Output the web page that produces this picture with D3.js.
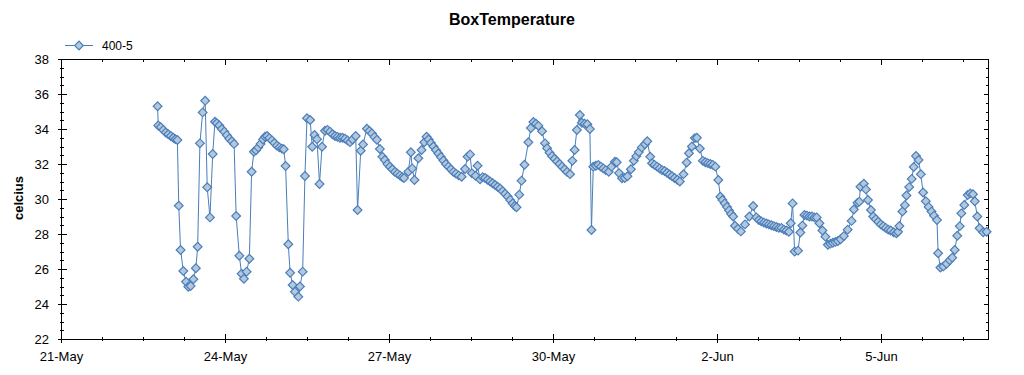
<!DOCTYPE html>
<html>
<head>
<meta charset="utf-8">
<script src="https://d3js.org/d3.v7.min.js"></script>
<style>
  body { margin: 0; background: #fff; }
  text { font-family: "Liberation Sans", Arial, sans-serif; fill: #000; }
</style>
</head>
<body>
<svg id="chart" width="1024" height="375"></svg>
<script>
// readings: [hour of day, celcius], one array per day
const may22 = [[18.4,35.3],[18.7,34.2],[19.8,34.1],[20.9,33.95],[22.0,33.8],[23.1,33.7]];
const may23 = [[0.2,33.6],[1.3,33.5],[2.2,33.42],[3.1,33.37],[3.7,29.62],[4.5,27.09],[5.7,25.89],[6.9,25.27],[7.9,24.99],[8.9,25.03],[10.1,25.41],[11.2,26.04],[12.0,27.27],[13.0,33.18],[14.2,34.95],[15.3,35.62],[16.2,30.67],[17.4,28.95],[18.6,32.57],[19.6,34.42],[20.4,34.33],[21.5,34.2],[22.6,34.0],[23.7,33.85]];
const may24 = [[0.8,33.65],[1.9,33.45],[3.0,33.3],[4.0,33.15],[4.9,29.03],[6.3,26.76],[7.3,25.73],[8.3,25.44],[9.5,25.85],[10.7,26.59],[11.7,31.56],[12.7,32.7],[13.6,32.78],[14.6,32.95],[15.6,33.15],[16.7,33.4],[17.6,33.56],[18.5,33.6],[19.5,33.48],[20.6,33.35],[21.7,33.2],[22.8,33.05],[23.9,32.95]];
const may25 = [[1.0,32.88],[1.8,32.84],[2.6,31.89],[3.8,27.41],[4.6,25.79],[5.7,25.09],[6.7,24.7],[8.2,24.42],[8.9,25.0],[10.1,25.85],[11.1,31.31],[12.0,34.61],[13.4,34.51],[14.3,32.99],[15.3,33.66],[16.4,33.41],[17.5,30.86],[18.6,32.99],[19.9,33.9],[21.0,33.95],[22.1,33.85],[23.2,33.7]];
const may26 = [[0.3,33.6],[1.4,33.55],[2.5,33.5],[3.6,33.5],[4.7,33.45],[5.8,33.35],[6.9,33.25],[8.0,33.4],[9.4,33.6],[10.2,29.37],[11.6,32.76],[12.6,33.12],[14.3,34.02],[15.4,33.89],[16.5,33.75],[17.6,33.55],[18.7,33.38],[20.0,32.86],[21.1,32.42],[22.2,32.23],[23.3,32.0]];
const may27 = [[0.4,31.85],[1.5,31.7],[2.6,31.55],[3.7,31.45],[4.8,31.35],[5.8,31.25],[6.6,31.2],[8.5,31.56],[9.6,32.67],[10.2,31.75],[11.2,31.09],[12.9,32.33],[14.3,32.8],[15.5,33.24],[16.5,33.56],[17.4,33.4],[18.4,33.2],[19.5,33.0],[20.6,32.8],[21.7,32.6],[22.8,32.4],[23.9,32.2]];
const may28 = [[1.0,32.0],[2.1,31.85],[3.2,31.7],[4.3,31.55],[5.4,31.45],[6.6,31.35],[7.9,31.27],[9.4,31.71],[10.5,32.42],[11.6,32.55],[12.4,31.47],[14.0,31.33],[14.9,31.9],[16.0,31.12],[17.1,31.25],[18.2,31.2],[19.3,31.1],[20.4,31.0],[21.5,30.9],[22.6,30.8],[23.7,30.7]];
const may29 = [[0.8,30.6],[1.9,30.45],[3.0,30.3],[4.1,30.15],[5.2,29.95],[6.3,29.75],[7.2,29.6],[8.0,29.53],[9.2,30.25],[10.2,31.05],[11.5,31.96],[13.2,33.24],[14.3,34.06],[15.4,34.4],[16.5,34.3],[17.6,34.18],[19.2,33.87],[20.5,33.18],[21.4,32.9],[22.5,32.65],[23.6,32.45]];
const may30 = [[0.7,32.3],[1.8,32.15],[2.9,32.0],[4.0,31.85],[5.1,31.7],[6.2,31.55],[7.5,31.42],[8.5,32.18],[9.5,32.8],[10.5,33.94],[11.8,34.8],[12.7,34.36],[13.9,34.3],[15.1,34.27],[16.2,34.0],[16.9,28.23],[17.7,31.85],[18.8,31.9],[19.9,31.95],[21.0,31.85],[22.1,31.75],[23.2,31.65]];
const may31 = [[0.5,31.56],[1.7,31.85],[3.2,32.13],[4.0,32.1],[5.0,31.48],[6.3,31.18],[7.5,31.2],[8.7,31.3],[10.2,31.7],[11.5,32.18],[12.6,32.45],[13.7,32.68],[15.0,32.95],[16.4,33.13],[17.4,33.3],[18.7,32.42],[19.5,32.04],[20.6,31.95],[21.7,31.85],[22.8,31.75],[23.9,31.65]];
const jun1 = [[1.0,31.6],[2.1,31.5],[3.2,31.4],[4.3,31.3],[5.4,31.2],[6.6,31.1],[7.7,31.0],[9.3,31.42],[10.7,32.08],[11.7,32.61],[13.0,33.0],[14.3,33.48],[15.2,33.5],[16.5,32.88],[17.8,32.18],[18.9,32.1],[20.0,32.05],[21.1,32.0],[22.2,31.95],[23.3,31.85]];
const jun2 = [[0.6,31.09],[1.5,30.13],[2.4,29.94],[3.4,29.75],[4.4,29.55],[5.3,29.35],[6.2,29.15],[7.1,29.0],[7.9,28.47],[9.2,28.3],[10.5,28.15],[12.3,28.55],[14.2,29.0],[15.9,29.6],[17.3,28.95],[18.4,28.8],[19.5,28.72],[20.6,28.65],[21.7,28.6],[22.8,28.55],[23.9,28.5]];
const jun3 = [[1.0,28.45],[2.1,28.4],[3.2,28.35],[4.3,28.35],[5.4,28.25],[6.5,28.2],[7.6,28.13],[8.4,28.61],[9.2,29.75],[10.1,27.0],[11.6,27.05],[12.6,28.09],[13.5,28.48],[14.4,29.09],[15.5,29.05],[16.6,29.0],[17.7,29.0],[18.8,28.95],[19.8,28.95],[21.0,28.61],[22.3,28.2],[23.6,27.85]];
const jun4 = [[0.7,27.39],[1.8,27.45],[2.9,27.5],[4.0,27.55],[5.1,27.6],[6.3,27.7],[7.7,27.88],[9.4,28.25],[11.1,28.75],[12.1,29.4],[13.7,29.78],[14.5,29.85],[15.0,30.7],[16.5,30.87],[17.4,30.55],[18.3,29.94],[19.6,29.37],[20.6,29.0],[21.7,28.85],[22.8,28.7],[23.9,28.55]];
const jun5 = [[1.0,28.45],[2.1,28.35],[3.2,28.25],[4.3,28.2],[5.6,28.1],[6.8,28.04],[7.5,28.13],[8.1,28.46],[9.4,29.28],[10.5,29.65],[11.2,30.2],[12.4,30.68],[13.5,31.15],[14.4,31.83],[15.4,32.46],[16.5,32.23],[17.5,31.42],[18.5,30.37],[19.7,29.87],[20.9,29.55],[22.2,29.28],[23.3,29.05]];
const jun6 = [[0.6,28.8],[1.1,26.9],[2.1,26.08],[3.4,26.15],[4.8,26.3],[6.2,26.5],[7.3,26.65],[8.4,27.09],[9.5,27.9],[10.6,28.45],[11.3,29.18],[12.6,29.66],[14.1,30.23],[15.2,30.32],[16.4,30.27],[17.2,29.87],[18.3,29.0],[19.3,28.33],[20.9,28.1],[22.4,28.13]];

const days = [may22, may23, may24, may25, may26, may27, may28, may29, may30, may31,
              jun1, jun2, jun3, jun4, jun5, jun6];
const startDate = new Date(2010, 4, 21);
const endHours = 407;
const yTicks = d3.range(22, 38.01, 2);
const seriesName = "400-5";

const hoursToDate = h => new Date(startDate.getTime() + h * 3600e3);
const data = [];
days.forEach((day, i) => day.forEach(([h, v]) => data.push({ t: hoursToDate((i + 1) * 24 + h), v })));

const svg = d3.select("#chart");
const plotL = 61, plotR = 988, plotT = 59, plotB = 339;

const x = d3.scaleTime().domain([startDate, hoursToDate(endHours)]).range([plotL, plotR]);
const y = d3.scaleLinear().domain([22, 38]).range([plotB, plotT]);

// title and axis label
svg.append("text").attr("x", 512).attr("y", 25).attr("text-anchor", "middle")
  .style("font-size", "16px").style("font-weight", "bold").text("BoxTemperature");
svg.append("text").attr("transform", "translate(23,198) rotate(-90)").attr("text-anchor", "middle")
  .style("font-size", "13px").style("font-weight", "bold").text("celcius");

// frame
svg.append("rect").attr("x", plotL + 0.5).attr("y", plotT + 0.5).attr("width", plotR - plotL).attr("height", plotB - plotT)
  .attr("fill", "none").attr("stroke", "#000").attr("stroke-width", 1);

// x ticks, every 18 hours, labels every 3 days
const xTickHours = d3.range(0, endHours, 18);
const g = svg.append("g").attr("stroke", "#000").attr("shape-rendering", "crispEdges");
xTickHours.forEach(h => {
  const px = Math.round(x(hoursToDate(h))) + 0.5;
  const major = h % 72 === 0;
  g.append("line").attr("x1", px).attr("x2", px).attr("y1", plotB - (major ? 5 : 2)).attr("y2", plotB + (major ? 4 : 2));
  g.append("line").attr("x1", px).attr("x2", px).attr("y1", plotT).attr("y2", plotT + (major ? 6 : 3));
  if (major) {
    svg.append("text").attr("x", px).attr("y", 361).attr("text-anchor", "middle")
      .style("font-size", "13px").text(d3.timeFormat("%-d-%b")(hoursToDate(h)));
  }
});

// y ticks, every 0.5, labels every 2
d3.range(22, 38.01, 0.5).forEach(v => {
  const py = Math.round(y(v)) + 0.5;
  const major = yTicks.includes(v);
  g.append("line").attr("x1", plotL - (major ? 3 : 1)).attr("x2", plotL + (major ? 6 : 3)).attr("y1", py).attr("y2", py);
  g.append("line").attr("x1", plotR - (major ? 4 : 2)).attr("x2", plotR).attr("y1", py).attr("y2", py);
});
svg.selectAll(".ylab").data(yTicks).join("text").attr("class", "ylab")
  .attr("x", 49).attr("y", d => y(d)).attr("dy", "0.35em").attr("text-anchor", "end")
  .style("font-size", "13px").text(d => d);

// series
const lineColor = "#4a7ebb", markFill = "#b4c8dc";
const marker = d3.symbol(d3.symbolSquare, 38);
svg.append("path").datum(data)
  .attr("fill", "none").attr("stroke", lineColor).attr("stroke-width", 1)
  .attr("d", d3.line().x(d => x(d.t)).y(d => y(d.v)));
svg.append("g").selectAll("path").data(data).join("path")
  .attr("transform", d => `translate(${x(d.t)},${y(d.v)}) rotate(45)`)
  .attr("d", marker).attr("fill", markFill).attr("stroke", lineColor).attr("stroke-width", 1.2);

// legend
svg.append("line").attr("x1", 65).attr("x2", 93).attr("y1", 45.5).attr("y2", 45.5)
  .attr("stroke", lineColor).attr("stroke-width", 1);
svg.append("path").attr("transform", "translate(79,45.5) rotate(45)").attr("d", marker)
  .attr("fill", markFill).attr("stroke", lineColor).attr("stroke-width", 1.2);
svg.append("text").attr("x", 102).attr("y", 45.5).attr("dy", "0.35em")
  .style("font-size", "12px").text(seriesName);
</script>
</body>
</html>
